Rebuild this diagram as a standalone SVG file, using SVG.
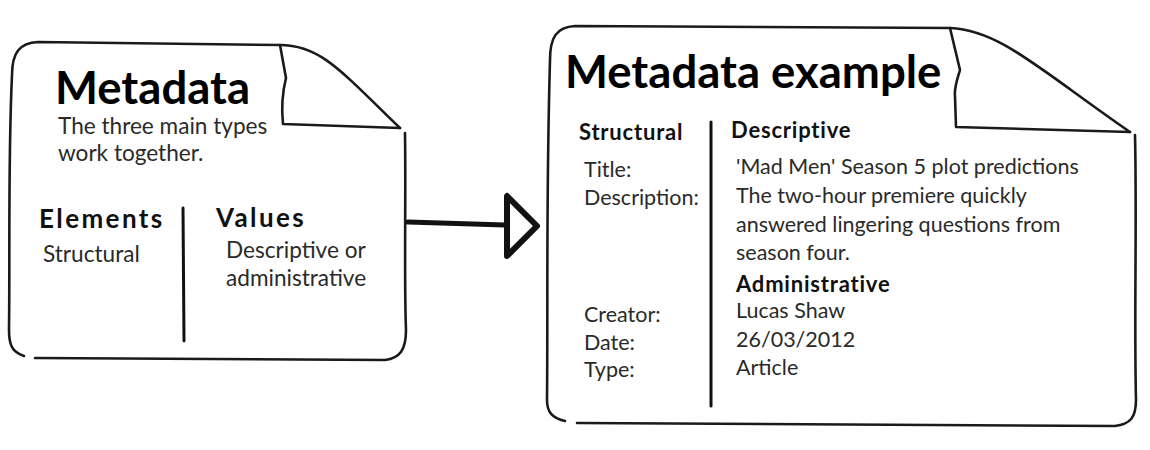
<svg xmlns="http://www.w3.org/2000/svg" width="1150" height="450" viewBox="0 0 1150 450">
<style>
.ink{fill:none;stroke:#1a1a1a;stroke-width:2.6;stroke-linecap:round;stroke-linejoin:round}
.div{fill:none;stroke:#111;stroke-width:3;stroke-linecap:round}
.t{font-family:Lato,"Open Sans",sans-serif;fill:#111}
.h1{font-size:45.5px;font-weight:700;fill:#000}
.h2{font-size:26px;font-weight:700;letter-spacing:2.4px}
.h3{font-size:22px;font-weight:700;letter-spacing:0.8px}
.b{font-size:21.5px;fill:#2a2a2a}
.bl{font-size:22.6px;fill:#2a2a2a}
</style>
<rect width="1150" height="450" fill="#fff"/>
<g id="node-metadata">
<path class="ink" d="M24,356 C12,352 9,345 9,330 C10,250 8,160 12,75 C12,52 20,43 38,42 L280,45 C320,45 340,70 400,128"/>
<path class="ink" d="M280,45 L286,78 C283,90 281,105 283,124 L400,128"/>
<path class="ink" d="M405,133 C406,200 404,280 406,330 C406,350 400,358 385,360 L35,358"/>
<line class="div" x1="183" y1="208" x2="184" y2="341"/>
<text class="t h1" x="55" y="104">Metadata</text>
<text class="t bl" x="58" y="134">The three main types</text>
<text class="t bl" x="58" y="161">work together.</text>
<text class="t h2" x="39" y="228">Elements</text>
<text class="t h2" x="216" y="227">Values</text>
<text class="t bl" x="43" y="262">Structural</text>
<text class="t bl" x="226" y="258">Descriptive or</text>
<text class="t bl" x="226" y="286">administrative</text>
</g>
<g id="node-example">
<path class="ink" d="M565,421 C552,418 547,412 547,400 C548,300 546,200 550,60 C550,38 556,27 575,26 L950,28 C1000,30 1040,70 1130,132"/>
<path class="ink" d="M950,28 L960,70 C957,80 954,88 955,96 L956,127 L1130,132"/>
<path class="ink" d="M1135,135 C1137,220 1134,320 1136,400 C1136,418 1130,424 1115,426 L577,423"/>
<line class="div" x1="711" y1="122" x2="711" y2="406"/>
<text class="t h1" x="565" y="88">Metadata example</text>
<text class="t h3" x="579" y="140">Structural</text>
<text class="t h3" x="731" y="138">Descriptive</text>
<text class="t b" x="584" y="177">Title:</text>
<text class="t b" x="584" y="205">Description:</text>
<text class="t b" x="584" y="322">Creator:</text>
<text class="t b" x="584" y="350">Date:</text>
<text class="t b" x="584" y="377">Type:</text>
<text class="t b" x="736" y="174">'Mad Men' Season 5 plot predictions</text>
<text class="t b" x="736" y="203">The two-hour premiere quickly</text>
<text class="t b" x="736" y="232">answered lingering questions from</text>
<text class="t b" x="736" y="260">season four.</text>
<text class="t h3" x="736" y="292">Administrative</text>
<text class="t b" x="736" y="318">Lucas Shaw</text>
<text class="t b" x="736" y="347">26/03/2012</text>
<text class="t b" x="736" y="375">Article</text>
</g>
<g id="connectors">
<path d="M408,222 L505,225" fill="none" stroke="#111" stroke-width="5" stroke-linecap="round"/>
<path d="M507,196 L507,256 L537,226 Z" fill="#fff" stroke="#111" stroke-width="6" stroke-linejoin="round"/>
</g>
</svg>
